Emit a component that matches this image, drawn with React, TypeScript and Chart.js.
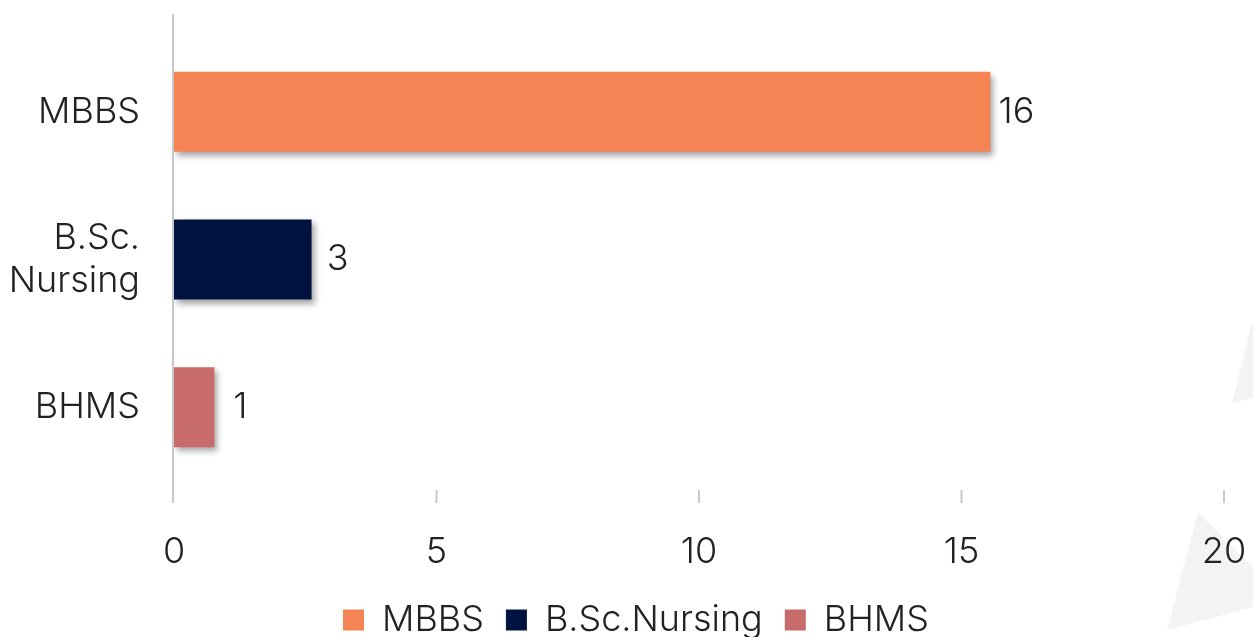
import React, { useEffect, useRef } from "react";
import { Chart, registerables } from "chart.js";

Chart.register(...registerables);

const categories: (string | string[])[] = ["MBBS", ["B.Sc.", "Nursing"], "BHMS"];
const seriesNames = ["MBBS", "B.Sc.Nursing", "BHMS"];
const seriesValues = [15.55, 2.62, 0.77];
const valueLabels = ["16", "3", "1"];
const seriesColors = ["#F48454", "#00123F", "#C86B6B"];
const xTicks = [0, 5, 10, 15, 20];

const FONT = "Inter, 'Noto Sans', sans-serif";
const TEXT = "#222222";
const FS = 36;
const FW = "300";

export default function App() {
  const ref = useRef<HTMLCanvasElement | null>(null);

  useEffect(() => {
    if (!ref.current) return;

    const bgShapes = {
      id: "bgShapes",
      beforeDraw(chart: any) {
        const ctx = chart.ctx;
        ctx.save();
        ctx.fillStyle = "#F3F3F3";
        ctx.beginPath();
        ctx.moveTo(1251, 326);
        ctx.lineTo(1253, 326);
        ctx.lineTo(1253, 398);
        ctx.lineTo(1232, 403);
        ctx.closePath();
        ctx.fill();
        ctx.beginPath();
        ctx.moveTo(1198, 512);
        ctx.lineTo(1253, 568);
        ctx.lineTo(1253, 607);
        ctx.lineTo(1167, 630);
        ctx.closePath();
        ctx.fill();
        ctx.restore();
      },
    };

    const legendShift = {
      id: "legendShift",
      afterLayout(chart: any) {
        if (chart.legend) {
          chart.legend.left += 24;
          chart.legend.right += 24;
        }
      },
    };

    const shadow = {
      id: "barShadow",
      beforeDatasetsDraw(chart: any) {
        const ctx = chart.ctx;
        ctx.save();
        ctx.shadowColor = "rgba(0,0,0,0.35)";
        ctx.shadowBlur = 6;
        ctx.shadowOffsetX = 3;
        ctx.shadowOffsetY = 4;
      },
      afterDatasetsDraw(chart: any) {
        chart.ctx.restore();
      },
    };

    const axisLines = {
      id: "axisLines",
      afterDraw(chart: any) {
        const ctx = chart.ctx;
        const xs = chart.scales.x;
        const area = chart.chartArea;
        ctx.save();
        ctx.strokeStyle = "#C8C8CC";
        ctx.lineWidth = 2;
        const x0 = xs.getPixelForValue(0) - 1;
        ctx.beginPath();
        ctx.moveTo(x0, 14);
        ctx.lineTo(x0, area.bottom + 22);
        ctx.stroke();
        xTicks.slice(1).forEach((v) => {
          const px = xs.getPixelForValue(v);
          ctx.beginPath();
          ctx.moveTo(px, area.bottom + 9);
          ctx.lineTo(px, area.bottom + 22);
          ctx.stroke();
        });
        ctx.restore();
      },
    };

    const dataLabels = {
      id: "dataLabels",
      afterDatasetsDraw(chart: any) {
        const ctx = chart.ctx;
        ctx.save();
        ctx.font = `${FW} ${FS}px ${FONT}`;
        ctx.fillStyle = TEXT;
        ctx.textAlign = "center";
        ctx.textBaseline = "middle";
        chart.data.datasets.forEach((ds: any, i: number) => {
          const meta = chart.getDatasetMeta(i);
          meta.data.forEach((el: any, j: number) => {
            if (ds.data[j] == null) return;
            ctx.fillText(valueLabels[i], el.x + 26, el.y);
          });
        });
        ctx.restore();
      },
    };

    const datasets = seriesNames.map((name, i) => ({
      label: name,
      data: categories.map((_, j) => (j === i ? seriesValues[i] : null)),
      backgroundColor: seriesColors[i],
      borderWidth: 0,
      grouped: false,
      barPercentage: 0.542,
      categoryPercentage: 1,
    }));

    const chart = new Chart(ref.current, {
      type: "bar",
      data: { labels: categories as any, datasets: datasets as any },
      plugins: [bgShapes, legendShift, shadow, axisLines, dataLabels],
      options: {
        indexAxis: "y",
        animation: false,
        responsive: false,
        maintainAspectRatio: false,
        layout: { padding: { top: 38, right: 29, left: 0, bottom: -11 } },
        plugins: {
          tooltip: { enabled: false },
          legend: {
            position: "bottom",
            labels: {
              boxWidth: 21,
              boxHeight: 21,
              padding: 22,
              color: TEXT,
              font: { family: FONT, size: FS, weight: FW },
            },
          },
        },
        scales: {
          x: {
            min: 0,
            max: 20,
            afterBuildTicks: (scale: any) => {
              scale.ticks = xTicks.map((v) => ({ value: v }));
            },
            grid: { display: false, drawTicks: false },
            border: { display: false },
            ticks: {
              color: TEXT,
              padding: 50,
              font: { family: FONT, size: FS, weight: FW },
              maxRotation: 0,
            },
            afterFit: (scale: any) => {
              scale.height = 99;
              scale.paddingLeft = 0;
              scale.paddingRight = 0;
            },
          },
          y: {
            grid: { display: false, drawTicks: false },
            border: { display: false },
            ticks: {
              color: TEXT,
              padding: 34,
              font: { family: FONT, size: FS, weight: FW },
            },
            afterFit: (scale: any) => {
              scale.width = 174;
              scale.paddingTop = 0;
              scale.paddingBottom = 0;
            },
          },
        },
      } as any,
    });

    return () => chart.destroy();
  }, []);

  return (
    <div style={{ position: "fixed", left: 0, top: 0, width: 1253, height: 637, background: "#fff" }}>
      <canvas ref={ref} width={1253} height={637} style={{ display: "block" }} />
    </div>
  );
}
